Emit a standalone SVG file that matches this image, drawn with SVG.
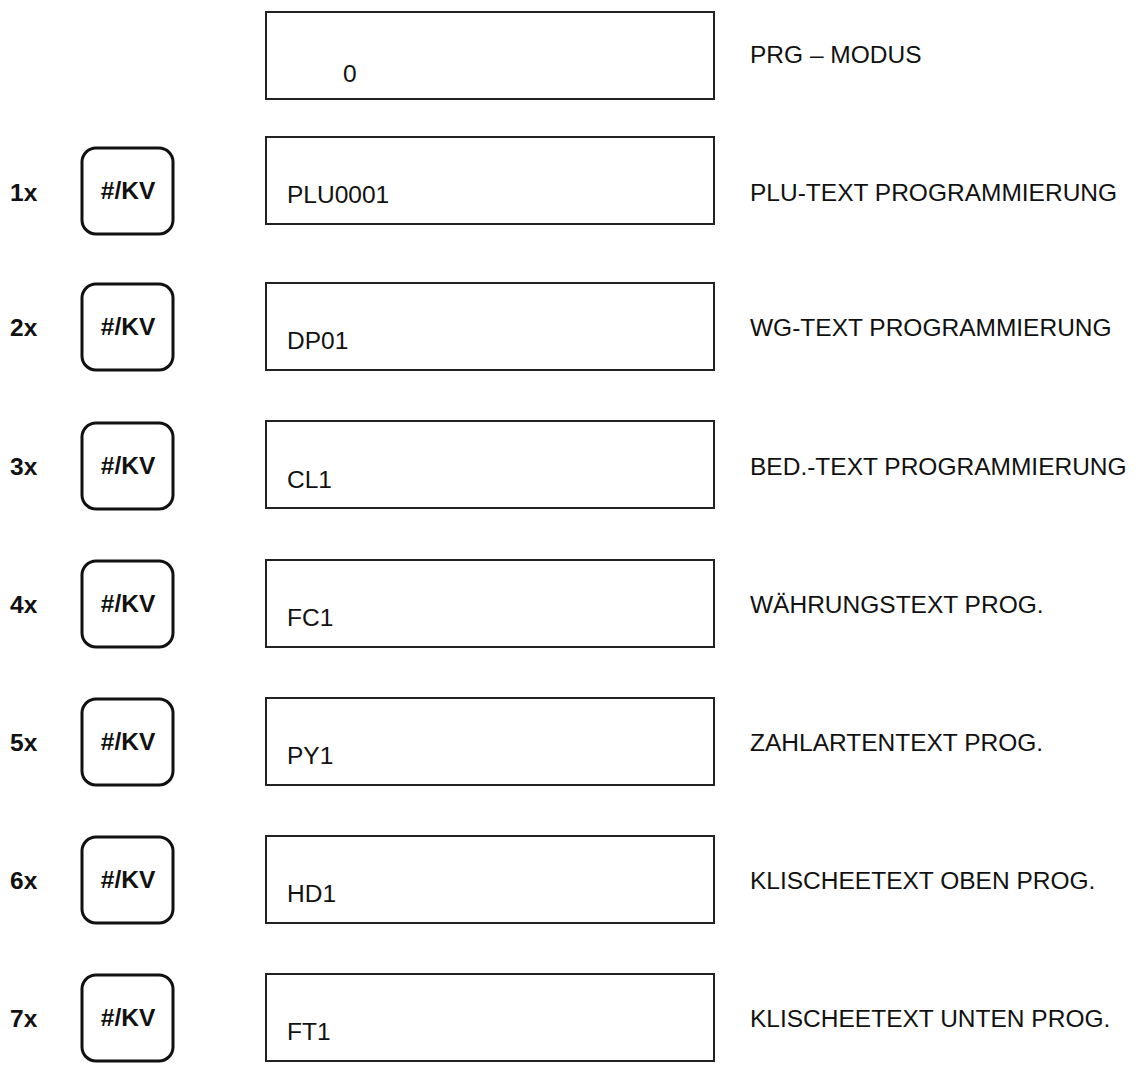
<svg xmlns="http://www.w3.org/2000/svg" width="1140" height="1065" viewBox="0 0 1140 1065">
<style>
.d{fill:#fff;stroke:#222;stroke-width:2}
.k{fill:#fff;stroke:#111;stroke-width:3}
.t{font-family:"Liberation Sans",Arial,sans-serif;font-size:24.5px;fill:#111}
.b{font-family:"Liberation Sans",Arial,sans-serif;font-size:24.5px;font-weight:bold;fill:#111}
</style>
<rect width="1140" height="1065" fill="#fff"/>
<g id="n0"><rect class="d" x="266" y="12" width="448" height="87"/><text class="t" x="343" y="82">0</text><text class="t" x="750" y="63">PRG – MODUS</text></g>
<g id="n1"><text class="b" x="10" y="201">1x</text><rect class="k" x="82" y="148" width="91" height="86" rx="14"/><text class="b" x="128" y="199" text-anchor="middle">#/KV</text><rect class="d" x="266" y="137" width="448" height="87"/><text class="t" x="287" y="203">PLU0001</text><text class="t" x="750" y="201">PLU-TEXT PROGRAMMIERUNG</text></g>
<g id="n2"><text class="b" x="10" y="336">2x</text><rect class="k" x="82" y="284" width="91" height="86" rx="14"/><text class="b" x="128" y="335" text-anchor="middle">#/KV</text><rect class="d" x="266" y="283" width="448" height="87"/><text class="t" x="287" y="349">DP01</text><text class="t" x="750" y="336">WG-TEXT PROGRAMMIERUNG</text></g>
<g id="n3"><text class="b" x="10" y="475">3x</text><rect class="k" x="82" y="423" width="91" height="86" rx="14"/><text class="b" x="128" y="474" text-anchor="middle">#/KV</text><rect class="d" x="266" y="421" width="448" height="87"/><text class="t" x="287" y="488">CL1</text><text class="t" x="750" y="475">BED.-TEXT PROGRAMMIERUNG</text></g>
<g id="n4"><text class="b" x="10" y="613">4x</text><rect class="k" x="82" y="561" width="91" height="86" rx="14"/><text class="b" x="128" y="612" text-anchor="middle">#/KV</text><rect class="d" x="266" y="560" width="448" height="87"/><text class="t" x="287" y="626">FC1</text><text class="t" x="750" y="613">WÄHRUNGSTEXT PROG.</text></g>
<g id="n5"><text class="b" x="10" y="751">5x</text><rect class="k" x="82" y="699" width="91" height="86" rx="14"/><text class="b" x="128" y="750" text-anchor="middle">#/KV</text><rect class="d" x="266" y="698" width="448" height="87"/><text class="t" x="287" y="764">PY1</text><text class="t" x="750" y="751">ZAHLARTENTEXT PROG.</text></g>
<g id="n6"><text class="b" x="10" y="889">6x</text><rect class="k" x="82" y="837" width="91" height="86" rx="14"/><text class="b" x="128" y="888" text-anchor="middle">#/KV</text><rect class="d" x="266" y="836" width="448" height="87"/><text class="t" x="287" y="902">HD1</text><text class="t" x="750" y="889">KLISCHEETEXT OBEN PROG.</text></g>
<g id="n7"><text class="b" x="10" y="1027">7x</text><rect class="k" x="82" y="975" width="91" height="86" rx="14"/><text class="b" x="128" y="1026" text-anchor="middle">#/KV</text><rect class="d" x="266" y="974" width="448" height="87"/><text class="t" x="287" y="1040">FT1</text><text class="t" x="750" y="1027">KLISCHEETEXT UNTEN PROG.</text></g>
<g id="connectors"/>
</svg>
